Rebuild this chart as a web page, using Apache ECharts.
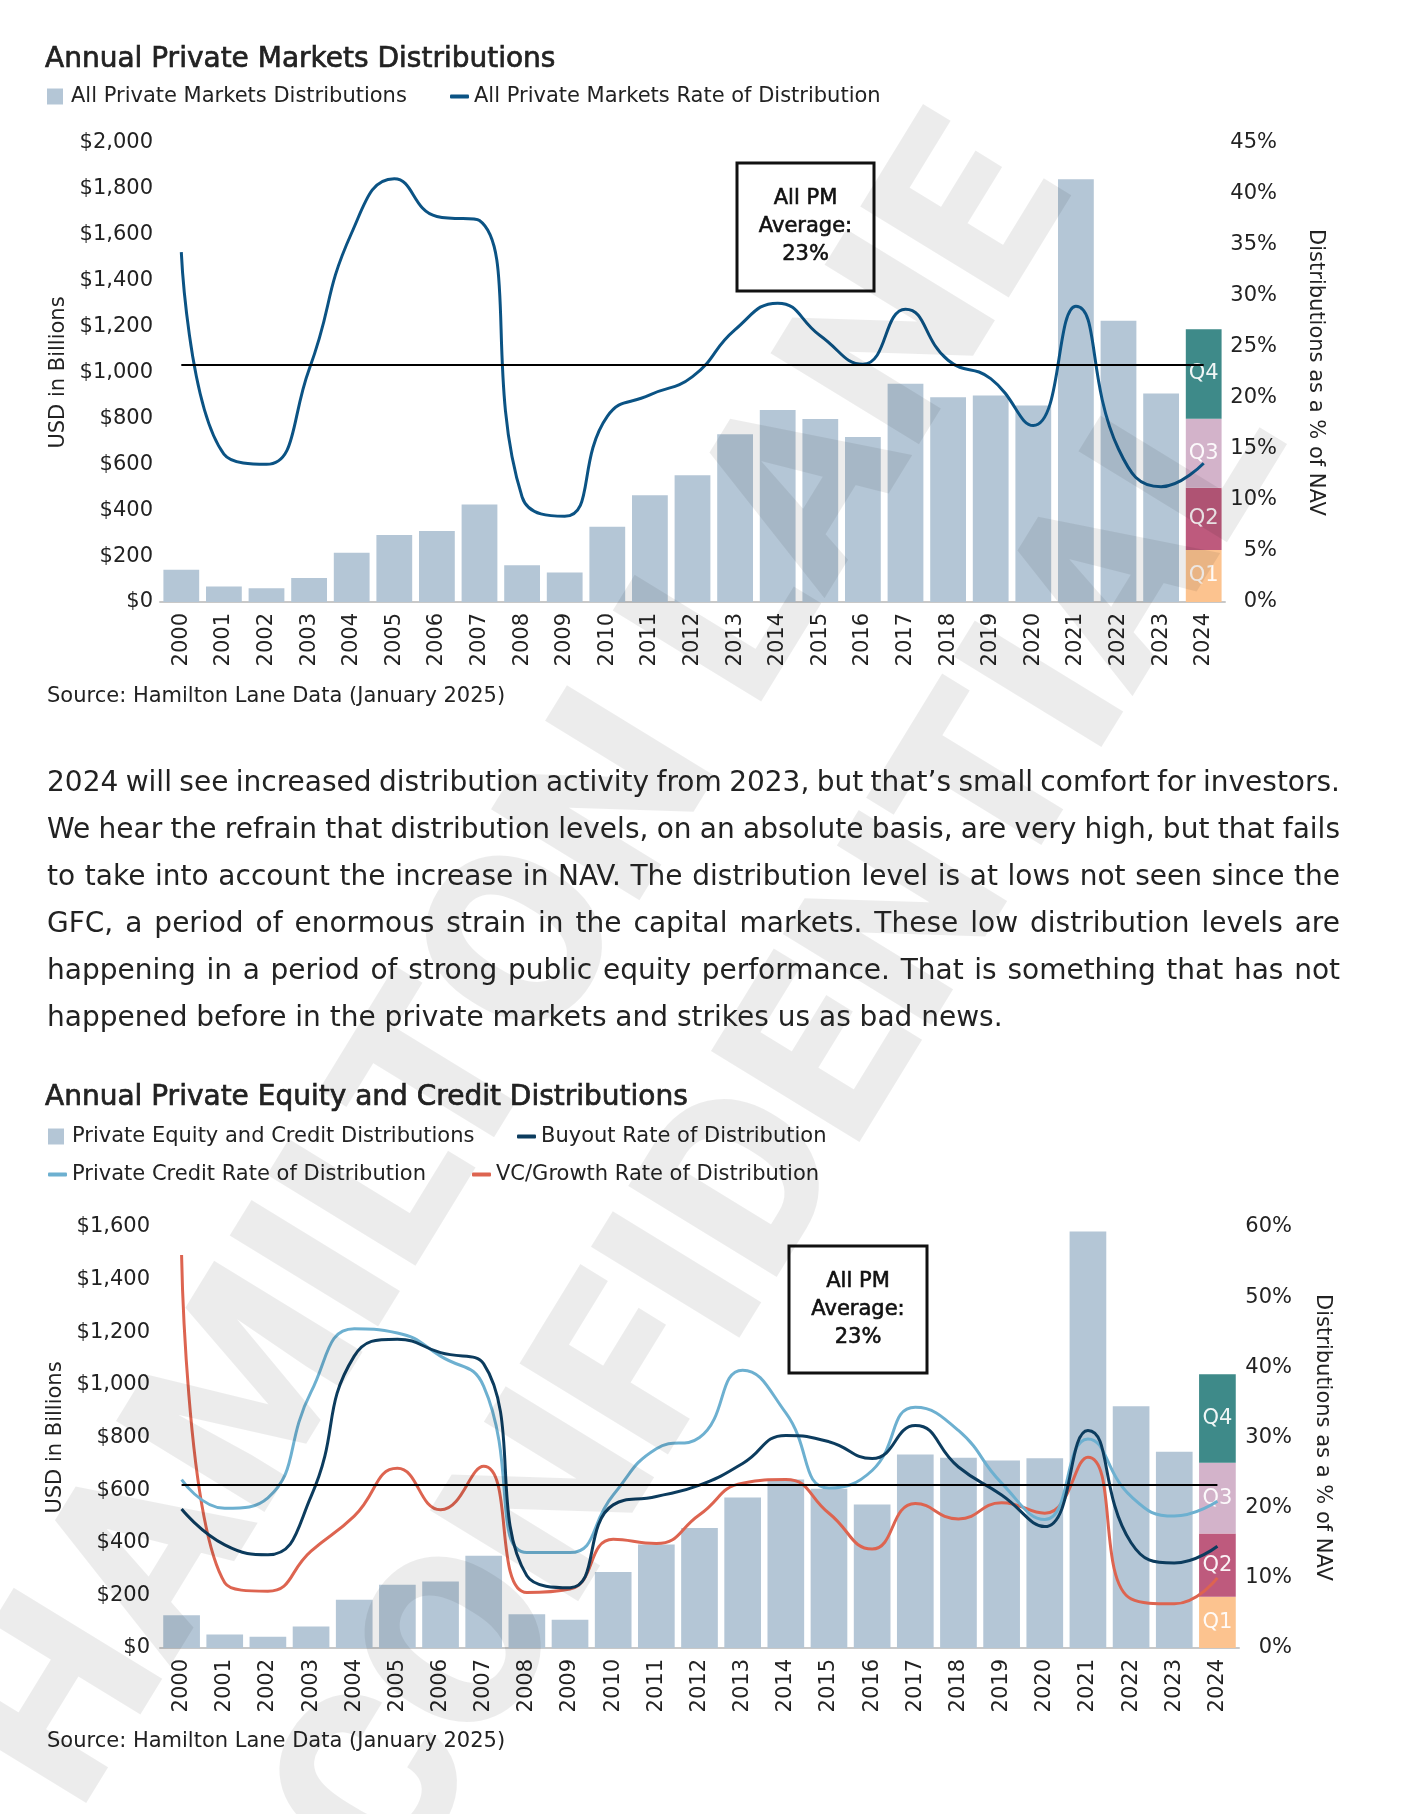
<!DOCTYPE html>
<html>
<head>
<meta charset="utf-8">
<script src="https://cdn.jsdelivr.net/npm/echarts@6/dist/echarts.min.js"></script>
<style>
  body { margin: 0; background: #fff; }
  #wrap { position: relative; width: 1401px; height: 1814px; }
  #chart { position: absolute; left: 0; top: 0; width: 1401px; height: 1814px; }
  #para {
    position: absolute; left: 47px; top: 758px; width: 1293px;
    font-family: 'DejaVu Sans', sans-serif; font-size: 28px; line-height: 47px; color: #222;
  }
  #para div { white-space: nowrap; }
  #para span { display: inline-block; }
</style>
</head>
<body>
<div id="wrap">
  <div id="chart"></div>
  <div id="para">
    <div><span class="j">2024 will see increased distribution activity from 2023, but that’s small comfort for investors.</span></div>
    <div><span class="j">We hear the refrain that distribution levels, on an absolute basis, are very high, but that fails</span></div>
    <div><span class="j">to take into account the increase in NAV. The distribution level is at lows not seen since the</span></div>
    <div><span class="j">GFC, a period of enormous strain in the capital markets. These low distribution levels are</span></div>
    <div><span class="j">happening in a period of strong public equity performance. That is something that has not</span></div>
    <div><span>happened before in the private markets and strikes us as bad news.</span></div>
  </div>
</div>
<script>
// categories
const years = ['2000', '2001', '2002', '2003', '2004', '2005', '2006', '2007', '2008', '2009', '2010', '2011', '2012',
  '2013', '2014', '2015', '2016', '2017', '2018', '2019', '2020', '2021', '2022', '2023', '2024']
const quarters = ['Q1', 'Q2', 'Q3', 'Q4']

// chart 1 - all private markets (USD bn, % of NAV)
const pmDist = [140, 68, 60, 105, 215, 292, 309, 425, 160, 128, 328, 465, 552, 731, 837, 797, 719, 951, 892, 900, 856, 1842, 1226, 909, '-']
const pmQuarters2024 = [227, 271, 301, 389]
const pmRate = [34.3, 14.5, 13.5, 22.8, 36.2, 41.5, 37.8, 37.4, 10.3, 8.4, 18.2, 20.3, 22.1, 26.7, 29.3, 26.1, 23.3, 28.7, 23.7, 21.9, 17.3, 29.0, 15.0, 11.3, 13.6]
const pmAverage = 23.3

// chart 2 - private equity and credit
const peDist = [124, 51, 43, 82, 183, 240, 253, 351, 128, 107, 289, 393, 456, 572, 640, 605, 545, 735, 723, 713, 721, 1583, 919, 746, '-']
const peQuarters2024 = [195, 240, 269, 336]
const buyoutRate = [19.8, 14.7, 13.3, 21.6, 41.6, 44.0, 42.1, 40.5, 10.3, 8.6, 20.4, 21.6, 23.2, 26.3, 30.3, 29.4, 27.0, 31.7, 25.8, 21.8, 17.3, 31.0, 15.0, 12.1, 14.5]
const creditRate = [24.0, 19.9, 21.4, 36.5, 45.5, 44.9, 41.6, 37.3, 13.6, 13.6, 21.8, 28.4, 30.0, 39.6, 33.5, 22.8, 25.3, 34.3, 31.0, 23.5, 18.3, 29.8, 21.6, 18.8, 20.9]
const vcRate = [56.0, 9.3, 8.1, 13.8, 18.8, 25.6, 19.7, 25.9, 7.9, 8.4, 15.5, 14.9, 19.0, 23.5, 24.0, 19.2, 14.1, 20.6, 18.4, 20.7, 19.2, 27.2, 7.0, 6.3, 10.0]

// y axis ticks
const usdTicks1 = { min: 0, max: 2000, interval: 200 }
const pctTicks1 = { min: 0, max: 45, interval: 5 }
const usdTicks2 = { min: 0, max: 1600, interval: 200 }
const pctTicks2 = { min: 0, max: 60, interval: 10 }

const FONT = 'DejaVu Sans'
const TXT = '#222'
const BAR = '#B4C6D6'
const qColors = ['#FCC38F', '#BE5A7D', '#D3B3CA', '#3E8A89']

function xAxisFor(gridIndex) {
  return {
    gridIndex: gridIndex,
    type: 'category',
    data: years,
    axisTick: { show: false },
    axisLine: { lineStyle: { color: '#C8C8C8', width: 2 } },
    axisLabel: { rotate: 90, interval: 0, fontSize: 21, margin: 11, color: TXT }
  }
}

function usdAxis(gridIndex, ticks, margin, gap) {
  return {
    gridIndex: gridIndex,
    type: 'value',
    min: ticks.min, max: ticks.max, interval: ticks.interval,
    splitLine: { show: false },
    axisLine: { show: false },
    axisTick: { show: false },
    axisLabel: { formatter: (v) => '$' + v.toLocaleString('en-US'), fontSize: 21, color: TXT, margin: margin },
    name: 'USD in Billions',
    nameLocation: 'middle',
    nameRotate: 90,
    nameGap: gap,
    nameTextStyle: { fontSize: 21, color: TXT }
  }
}

function pctAxis(gridIndex, ticks, margin, gap) {
  return {
    gridIndex: gridIndex,
    type: 'value',
    position: 'right',
    min: ticks.min, max: ticks.max, interval: ticks.interval,
    splitLine: { show: false },
    axisLine: { show: false },
    axisTick: { show: false },
    axisLabel: { formatter: '{value}%', align: 'right', fontSize: 21, color: TXT, margin: margin },
    name: 'Distributions as a % of NAV',
    nameLocation: 'middle',
    nameRotate: -90,
    nameGap: gap,
    nameTextStyle: { fontSize: 21, color: TXT }
  }
}

// 2024 quarter segments, stacked on the same slot as the yearly bars
function quarterSeries(values, xi, yi, stack) {
  return values.map((v, k) => ({
    name: quarters[k],
    type: 'bar',
    stack: stack,
    xAxisIndex: xi,
    yAxisIndex: yi,
    data: years.map((y, i) => (i === years.length - 1 ? v : '-')),
    itemStyle: { color: qColors[k] },
    label: {
      show: true, position: 'inside', formatter: quarters[k],
      color: 'rgba(255,255,255,0.92)', fontSize: 21
    }
  }))
}

function rateLine(name, data, color, xi, yi) {
  return {
    name: name,
    type: 'line',
    xAxisIndex: xi,
    yAxisIndex: yi,
    data: data,
    smooth: 0.5,
    symbol: 'none',
    color: color,
    lineStyle: { color: color, width: 3 },
    z: 4
  }
}

function avgLine(value) {
  return {
    silent: true,
    symbol: 'none',
    label: { show: false },
    lineStyle: { color: '#000', width: 2, type: 'solid' },
    data: [[{ coord: [years[0], value] }, { coord: [years[years.length - 1], value] }]]
  }
}

function legendItem(name, icon, left, cy, w, h) {
  return {
    data: [{ name: name, icon: icon }],
    left: left,
    top: cy - 11,
    padding: 0,
    itemWidth: w,
    itemHeight: h,
    textStyle: { fontSize: 21, color: TXT, padding: icon === 'rect' ? [0, 0, 0, 3] : 0 }
  }
}

function avgBox(x, y, w, h) {
  return [
    { type: 'rect', z: 50, shape: { x: x, y: y, width: w, height: h }, style: { fill: '#fff', stroke: '#111', lineWidth: 3 } },
    {
      type: 'text', z: 51, x: x + w / 2, y: y + h / 2,
      style: {
        text: 'All PM\nAverage:\n23%', fill: '#111', font: '21px ' + FONT,
        stroke: '#111', lineWidth: 0.6,
        lineHeight: 28, align: 'center', verticalAlign: 'middle'
      }
    }
  ]
}

function sourceText(y) {
  return { type: 'text', z: 50, x: 47, y: y, style: { text: 'Source: Hamilton Lane Data (January 2025)', fill: TXT, font: '21px ' + FONT, verticalAlign: 'middle' } }
}

const titleStyle = { fontSize: 28, fontWeight: 'normal', color: TXT, textBorderColor: TXT, textBorderWidth: 0.7 }

const pmLine = rateLine('All Private Markets Rate of Distribution', pmRate, '#0B5384', 0, 1)
pmLine.markLine = avgLine(pmAverage)

const buyLine = rateLine('Buyout Rate of Distribution', buyoutRate, '#0C3C5E', 1, 3)
buyLine.markLine = avgLine(pmAverage)

const chart = echarts.init(document.getElementById('chart'))
chart.setOption({
  animation: false,
  textStyle: { fontFamily: FONT },
  title: [
    { text: 'Annual Private Markets Distributions', left: 45, top: 46, padding: 0, textStyle: titleStyle },
    { text: 'Annual Private Equity and Credit Distributions', left: 45, top: 1084, padding: 0, textStyle: titleStyle }
  ],
  legend: [
    legendItem('All Private Markets Distributions', 'rect', 47, 97, 16, 16),
    legendItem('All Private Markets Rate of Distribution', 'roundRect', 450, 97, 19, 4),
    legendItem('Private Equity and Credit Distributions', 'rect', 48, 1137, 16, 16),
    legendItem('Buyout Rate of Distribution', 'roundRect', 517, 1137, 19, 4),
    legendItem('Private Credit Rate of Distribution', 'roundRect', 48, 1175, 19, 4),
    legendItem('VC/Growth Rate of Distribution', 'roundRect', 472, 1175, 19, 4)
  ],
  grid: [
    { left: 160, top: 143, width: 1065, height: 459 },
    { left: 160, top: 1227, width: 1079, height: 421 }
  ],
  xAxis: [xAxisFor(0), xAxisFor(1)],
  yAxis: [
    usdAxis(0, usdTicks1, 7, 88),
    pctAxis(0, pctTicks1, 52, 80),
    usdAxis(1, usdTicks2, 10, 88),
    pctAxis(1, pctTicks2, 53, 73)
  ],
  series: [
    {
      name: 'All Private Markets Distributions', type: 'bar', stack: 'pm',
      xAxisIndex: 0, yAxisIndex: 0, data: pmDist, barCategoryGap: '16%',
      itemStyle: { color: BAR }
    },
    ...quarterSeries(pmQuarters2024, 0, 0, 'pm'),
    pmLine,
    {
      name: 'Private Equity and Credit Distributions', type: 'bar', stack: 'pe',
      xAxisIndex: 1, yAxisIndex: 2, data: peDist, barCategoryGap: '15%',
      itemStyle: { color: BAR }
    },
    ...quarterSeries(peQuarters2024, 1, 2, 'pe'),
    rateLine('VC/Growth Rate of Distribution', vcRate, '#DD6450', 1, 3),
    rateLine('Private Credit Rate of Distribution', creditRate, '#6DB0D0', 1, 3),
    buyLine
  ],
  graphic: [
    ...avgBox(737, 163, 137, 128),
    ...avgBox(789, 1246, 138, 127),
    sourceText(697),
    sourceText(1742),
    {
      // diagonal watermark
      type: 'text', z: 100, silent: true,
      x: 658, y: 1053, rotation: 58.5 * Math.PI / 180,
      style: {
        text: 'HAMILTON LANE\nCONFIDENTIAL', fill: 'rgba(0,0,0,0.075)',
        font: '900 245px Roboto', lineHeight: 314, align: 'center', verticalAlign: 'middle'
      }
    }
  ]
})

// justify paragraph lines to the column width
function fitLines() {
  document.querySelectorAll('#para .j').forEach((el) => {
    el.style.wordSpacing = '0px'
    const spaces = (el.textContent.match(/ /g) || []).length
    const w = el.getBoundingClientRect().width
    el.style.wordSpacing = ((1293 - w) / spaces) + 'px'
  })
}
fitLines()
if (document.fonts) document.fonts.ready.then(fitLines)
</script>
</body>
</html>
